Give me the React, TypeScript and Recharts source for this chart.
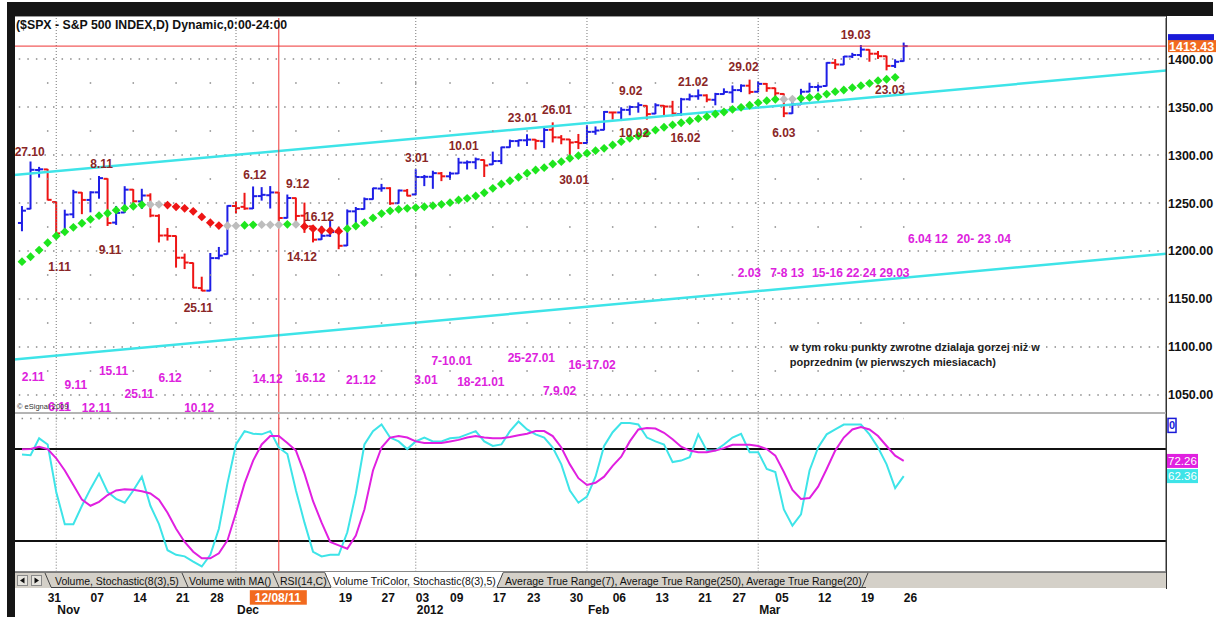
import React from "react";
import { ComposedChart, XAxis, YAxis, Bar, Line, Scatter, ReferenceLine } from "recharts";

const FONT = '"Liberation Sans", Arial, Helvetica, sans-serif';

// daily bars, 26 Oct 2011 .. 26 Mar 2012 (index = trading day)
const opens = [
  1229.2, 1244.0, 1284.4, 1285.0, 1251.0, 1219.6, 1238.2, 1260.8, 1253.2, 1261.1,
  1275.2, 1229.6, 1240.1, 1263.9, 1251.7, 1257.8, 1236.6, 1216.2, 1215.6, 1193.0,
  1187.5, 1161.4, 1158.7, 1192.6, 1196.7, 1246.9, 1246.0, 1244.3, 1257.2, 1258.1,
  1260.9, 1234.5, 1255.1, 1236.8, 1225.7, 1212.1, 1216.1, 1219.7, 1205.7, 1241.3,
  1243.7, 1254.0, 1265.0, 1265.4, 1249.8, 1262.8, 1258.9, 1277.0, 1277.3, 1280.9,
  1277.8, 1280.8, 1292.0, 1292.5, 1294.8, 1290.2, 1293.7, 1308.1, 1314.5, 1315.3,
  1316.0, 1314.4, 1326.3, 1318.3, 1316.2, 1313.5, 1312.5, 1324.2, 1326.2, 1344.3,
  1344.3, 1347.0, 1350.0, 1351.2, 1343.1, 1351.3, 1350.5, 1342.6, 1358.1, 1361.2,
  1362.1, 1357.5, 1363.5, 1365.2, 1367.6, 1372.2, 1365.9, 1374.1, 1369.6, 1363.6,
  1343.4, 1352.7, 1366.0, 1370.8, 1371.9, 1396.0, 1394.2, 1402.6, 1404.2, 1409.6,
  1405.5, 1402.9, 1392.8, 1397.8,
];
const highs = [
  1246.3, 1292.7, 1287.1, 1285.0, 1251.0, 1242.5, 1263.2, 1260.8, 1261.7, 1277.6,
  1275.2, 1246.4, 1267.0, 1263.9, 1264.3, 1259.6, 1237.7, 1223.5, 1215.6, 1196.8,
  1187.5, 1172.7, 1197.4, 1203.7, 1247.1, 1251.1, 1260.1, 1266.7, 1266.0, 1267.1,
  1260.9, 1258.3, 1255.1, 1249.9, 1225.7, 1225.6, 1231.0, 1224.6, 1242.8, 1245.3,
  1255.2, 1265.4, 1269.4, 1265.9, 1263.5, 1264.1, 1284.6, 1278.7, 1283.1, 1281.8,
  1282.0, 1296.5, 1293.8, 1296.8, 1294.8, 1303.0, 1308.1, 1315.5, 1315.4, 1321.1,
  1316.0, 1328.3, 1333.5, 1320.2, 1316.2, 1321.4, 1330.5, 1329.2, 1345.3, 1344.4,
  1349.2, 1351.0, 1354.3, 1351.2, 1353.4, 1351.3, 1355.9, 1359.0, 1363.4, 1367.8,
  1362.7, 1364.2, 1368.9, 1371.9, 1373.1, 1378.0, 1376.2, 1374.5, 1369.6, 1363.6,
  1354.9, 1368.4, 1374.8, 1373.0, 1396.1, 1399.4, 1402.6, 1405.9, 1414.0, 1409.6,
  1407.8, 1402.9, 1399.2, 1416.6,
];
const lows = [
  1221.1, 1244.0, 1277.0, 1253.2, 1215.4, 1219.6, 1234.8, 1238.9, 1240.8, 1255.0,
  1226.6, 1227.7, 1240.1, 1246.7, 1244.3, 1235.7, 1209.4, 1211.4, 1183.2, 1181.7,
  1161.8, 1158.7, 1158.7, 1191.8, 1196.7, 1239.7, 1243.4, 1244.3, 1253.0, 1244.8,
  1231.5, 1234.4, 1227.3, 1219.4, 1209.5, 1212.1, 1215.2, 1202.4, 1205.7, 1229.5,
  1243.7, 1254.0, 1262.3, 1248.6, 1249.8, 1257.5, 1258.9, 1268.1, 1265.3, 1273.3,
  1274.6, 1280.8, 1285.4, 1285.8, 1277.6, 1290.2, 1291.0, 1308.1, 1309.2, 1309.9,
  1306.1, 1307.7, 1313.6, 1311.7, 1300.5, 1306.7, 1312.5, 1321.6, 1326.2, 1337.5,
  1335.9, 1341.9, 1344.6, 1337.4, 1343.1, 1340.8, 1340.8, 1341.2, 1357.2, 1358.1,
  1355.5, 1352.3, 1363.5, 1354.9, 1366.0, 1363.8, 1365.9, 1366.4, 1359.1, 1340.0,
  1343.4, 1352.7, 1366.0, 1366.7, 1371.9, 1390.0, 1394.2, 1401.5, 1402.4, 1397.7,
  1400.6, 1388.7, 1391.2, 1397.8,
];
const closes = [
  1242.0, 1284.6, 1285.1, 1253.3, 1218.3, 1237.9, 1261.2, 1253.2, 1261.1, 1275.9,
  1229.1, 1239.7, 1263.9, 1251.8, 1257.8, 1236.9, 1216.1, 1215.7, 1193.0, 1188.0,
  1161.8, 1158.7, 1192.6, 1195.2, 1247.0, 1244.6, 1244.3, 1257.1, 1258.5, 1261.0,
  1234.4, 1255.2, 1236.5, 1225.7, 1211.8, 1215.8, 1219.7, 1205.4, 1241.3, 1243.7,
  1254.0, 1265.3, 1265.4, 1249.6, 1263.0, 1257.6, 1277.1, 1277.3, 1281.1, 1277.8,
  1280.7, 1292.1, 1292.5, 1295.5, 1289.1, 1293.7, 1308.0, 1314.5, 1315.4, 1316.0,
  1314.7, 1326.1, 1318.4, 1316.3, 1313.0, 1312.4, 1324.1, 1325.5, 1344.9, 1344.3,
  1347.1, 1350.0, 1352.0, 1342.6, 1351.8, 1350.5, 1343.2, 1358.0, 1361.2, 1362.2,
  1357.7, 1363.5, 1365.7, 1367.6, 1372.2, 1365.7, 1374.1, 1369.6, 1364.3, 1343.4,
  1352.6, 1365.9, 1370.9, 1371.1, 1396.0, 1394.3, 1402.6, 1404.2, 1409.8, 1405.5,
  1402.9, 1392.8, 1397.1, 1413.4,
];
// moving average (diamonds)
const maValues = [
  1188.9, 1194.0, 1201.0, 1208.6, 1215.6, 1220.0, 1224.7, 1228.9, 1233.0, 1236.8,
  1239.3, 1242.5, 1244.5, 1246.6, 1248.2, 1248.4, 1248.5, 1247.8, 1246.0, 1244.5,
  1241.3, 1235.5, 1229.5, 1226.5, 1226.3, 1226.2, 1226.8, 1227.3, 1227.4, 1227.3,
  1227.3, 1227.8, 1227.7, 1225.5, 1223.3, 1221.9, 1221.2, 1220.6, 1223.3, 1226.0,
  1229.5, 1234.5, 1239.0, 1241.8, 1243.4, 1244.5, 1245.2, 1246.1, 1247.2, 1248.6,
  1250.3, 1253.1, 1254.9, 1257.3, 1260.7, 1265.3, 1269.8, 1273.2, 1276.8, 1281.0,
  1284.4, 1286.8, 1290.6, 1293.0, 1296.6, 1299.3, 1301.8, 1304.5, 1307.0, 1310.4,
  1313.9, 1317.4, 1319.8, 1322.6, 1326.0, 1328.9, 1331.3, 1333.6, 1335.7, 1337.8,
  1339.9, 1342.7, 1344.8, 1347.6, 1349.7, 1351.8, 1354.5, 1356.6, 1358.0, 1358.2,
  1358.3, 1359.0, 1360.0, 1360.7, 1363.5, 1366.0, 1367.7, 1370.1, 1372.2, 1374.7,
  1377.4, 1378.9, 1380.9, null,
];
// stochastic %K (cyan) and %D (magenta)
const stochK = [
  76.4, 76.0, 87.0, 83.0, 52.0, 31.0, 31.0, 43.0, 54.0, 64.0,
  52.0, 47.5, 45.0, 53.0, 62.0, 43.0, 31.0, 14.0, 11.0, 10.0,
  6.6, 3.4, 11.0, 28.0, 57.6, 83.0, 91.7, 90.0, 89.6, 91.7,
  81.0, 76.8, 53.0, 32.0, 13.0, 10.0, 11.0, 11.0, 25.7, 51.0,
  83.0, 91.7, 96.0, 87.5, 85.0, 80.0, 85.0, 87.5, 85.0, 85.0,
  87.0, 87.5, 89.6, 91.7, 85.0, 82.0, 83.0, 91.7, 98.0, 92.8,
  89.6, 87.5, 81.0, 70.0, 53.0, 45.0, 49.0, 62.0, 82.0, 91.0,
  97.0, 97.0, 96.0, 87.5, 85.0, 83.0, 71.5, 72.5, 74.7, 89.6,
  79.0, 79.0, 83.0, 87.5, 90.0, 78.0, 78.0, 67.0, 65.0, 40.6,
  30.0, 37.4, 66.0, 81.0, 89.6, 92.8, 96.0, 96.0, 96.0, 89.6,
  81.0, 70.0, 54.5, 62.36,
];
const stochD = [
  79.8, 80.0, 81.5, 80.0, 74.0, 66.0, 56.5, 47.0, 43.0, 45.6,
  50.0, 53.0, 53.7, 53.5, 52.5, 51.0, 47.0, 38.5, 28.0, 19.4,
  13.0, 8.7, 8.7, 12.0, 20.4, 38.5, 57.6, 72.5, 83.0, 88.5,
  88.5, 84.0, 79.0, 64.0, 46.0, 32.0, 19.4, 17.2, 15.0, 23.6,
  40.6, 66.0, 81.0, 87.5, 88.5, 87.5, 85.0, 84.0, 84.0, 84.0,
  85.0, 86.0, 87.5, 88.5, 87.5, 87.0, 87.0, 87.9, 89.0, 90.0,
  91.7, 91.7, 88.5, 81.0, 70.0, 61.0, 56.6, 58.0, 62.0, 69.0,
  75.0, 85.0, 92.8, 93.8, 93.4, 90.6, 86.4, 81.5, 79.0, 78.0,
  78.0, 79.0, 80.6, 82.8, 82.8, 82.8, 82.0, 80.0, 75.7, 65.0,
  53.4, 47.4, 48.0, 55.5, 67.0, 79.0, 87.5, 92.8, 94.3, 92.8,
  88.5, 82.0, 75.7, 72.26,
];

const priceTicks = [1050, 1100, 1150, 1200, 1250, 1300, 1350, 1400];
const midLevels = [1075, 1125, 1175, 1225, 1275, 1325, 1375];
const lastPrice = 1413.43;

// first trading day of each week; the two December labels under the cursor box stay blank
const weekStarts = [3, 8, 13, 18, 22, 27, 32, 37, 42, 46, 50, 55, 59, 64, 69, 74, 79, 83, 88, 93, 98, 103];
const weekLabels = ["31", "07", "14", "21", "28", "", "", "19", "27", "03", "09", "17", "23", "30", "06", "13", "21", "27", "05", "12", "19", "26"];
const monthStarts = [4, 25, 46, 66, 86];
const monthLabels = ["Nov", "Dec", "2012", "Feb", "Mar"];
const cursorIndex = 30;
const cursorLabel = "12/08/11";

// trend channel, two anchor points each (bar index, price)
const upperTrend = [{ x: -2, y: 1278.2 }, { x: 136, y: 1390.0 }];
const lowerTrend = [{ x: -2, y: 1086.2 }, { x: 136, y: 1199.1 }];

// turning-point notes
const redNoteText = ["27.10", "8.11", "6.12", "9.12", "16.12", "1.11", "9.11", "25.11", "14.12", "3.01", "10.01", "23.01", "26.01", "30.01", "9.02", "10.02", "21.02", "16.02", "29.02", "6.03", "19.03", "23.03"];
const redNoteAt = [0.9, 9.3, 27.2, 32.2, 34.7, 4.4, 10.3, 20.6, 32.7, 46.1, 51.6, 58.5, 62.5, 64.5, 71.1, 71.5, 78.4, 77.5, 84.3, 89.0, 97.4, 101.4];
const redNoteLevel = [1303, 1290.6, 1280, 1269.8, 1235.7, 1183.7, 1201, 1141.3, 1194, 1297.6, 1309.7, 1339.3, 1347.6, 1274.7, 1367, 1323.3, 1376.4, 1318.4, 1392, 1323.3, 1425, 1368.4];

const pinkNoteText = ["2.11", "9.11", "15.11", "25.11", "12.11", "6.11", "6.12", "10.12", "14.12", "16.12", "21.12", "3.01", "7-10.01", "18-21.01", "25-27.01", "16-17.02", "7.9.02"];
const pinkNoteAt = [1.3, 6.3, 10.7, 13.7, 8.7, 4.4, 17.3, 20.7, 28.7, 33.7, 39.6, 47.2, 50.2, 53.6, 59.5, 66.6, 62.8];
const pinkNoteLevel = [1069, 1060.4, 1075.3, 1051, 1036.5, 1037.9, 1068.4, 1036.5, 1067.4, 1068.4, 1066.4, 1065.6, 1085.7, 1063.9, 1088.9, 1081.3, 1054.5];

const pinkRowText = ["2.03", "7-8 13", "15-16 22 24 29.03", "6.04 12", "20- 23 .04"];
const pinkRowAt = [83.6, 87.4, 92.3, 103.5, 109.2];
const pinkRowLevel = [1177.4, 1177.4, 1177.4, 1213.2, 1213.2];

const commentText = ["w tym roku punkty zwrotne dzialaja gorzej niż w", "poprzednim (w pierwszych miesiacach)"];
const commentAt = [89.7, 89.7];
const commentLevel = [1100.3, 1084.7];

const X_DOMAIN: [number, number] = [-0.935, 133.64];

const BLUE = "#1e1ee6";
const RED = "#ee1515";
const GREEN = "#1ee61e";
const GRAY = "#bdbdbd";
const CYAN = "#3ee4e8";
const MAGENTA = "#e020e0";
const NOTE_RED = "#8a2626";
const NOTE_PINK = "#dd22dd";

const bars = opens.map((o, i) => ({
  i,
  o,
  h: highs[i],
  l: lows[i],
  c: closes[i],
  up: i === 0 || closes[i] >= closes[i - 1],
  ma: maValues[i],
  k: stochK[i],
  d: stochD[i],
}));

const maPoints = bars
  .filter((b) => b.ma != null)
  .map((b) => {
    const prev = b.i > 0 ? maValues[b.i - 1] : null;
    const diff = prev == null ? 1 : (b.ma as number) - prev;
    return { i: b.i, ma: b.ma, col: diff > 0.3 ? GREEN : diff < -0.3 ? RED : GRAY };
  });

const gridDots = weekStarts.flatMap((i) => midLevels.map((p) => ({ i, p })));
const toNotes = (t: string[], a: number[], l: number[]) => t.map((text, n) => ({ i: a[n], p: l[n], text }));
const redNotes = toNotes(redNoteText, redNoteAt, redNoteLevel);
const pinkNotes = toNotes(pinkNoteText, pinkNoteAt, pinkNoteLevel);
const pinkRow = toNotes(pinkRowText, pinkRowAt, pinkRowLevel);
const comments = toNotes(commentText, commentAt, commentLevel);

const OhlcShape = (props: any) => {
  const { x, y, width, height, payload } = props;
  if (x == null || y == null) return null;
  const top = Math.min(y, y + height);
  const h = Math.abs(height);
  const cx = x + width / 2;
  const span = payload.h - payload.l || 1;
  const yo = top + ((payload.h - payload.o) / span) * h;
  const yc = top + ((payload.h - payload.c) / span) * h;
  const col = payload.up ? BLUE : RED;
  return (
    <g stroke={col} strokeWidth={2}>
      <line x1={cx} x2={cx} y1={top - 0.5} y2={top + h + 0.5} />
      <line x1={cx - 4} x2={cx} y1={yo} y2={yo} />
      <line x1={cx} x2={cx + 4} y1={yc} y2={yc} />
    </g>
  );
};

const Diamond = (props: any) => {
  const { cx, cy, payload } = props;
  if (cx == null || cy == null) return null;
  const s = 4.4;
  return <polygon points={`${cx},${cy - s} ${cx + s},${cy} ${cx},${cy + s} ${cx - s},${cy}`} fill={payload.col} />;
};

const GridDot = (props: any) => {
  const { cx, cy } = props;
  return <rect x={cx - 0.75} y={cy - 0.75} width={1.5} height={1.5} fill="#8a8a8a" />;
};

const noteShape = (color: string, anchor: "middle" | "start", size: number) => (props: any) => (
  <text
    x={props.cx}
    y={props.cy}
    dy="0.36em"
    textAnchor={anchor}
    fill={color}
    fontFamily={FONT}
    fontSize={size}
    fontWeight="bold"
    style={{ whiteSpace: "pre" }}
  >
    {props.payload.text}
  </text>
);

const PriceTick = (props: any) => {
  const { x, y, payload } = props;
  return (
    <text x={x} y={y} dy={4.5} textAnchor="start" fontFamily={FONT} fontSize={12.5} fontWeight="bold" fill="#111">
      {Number(payload.value).toFixed(2)}
    </text>
  );
};

const LastPriceTag = (props: any) => {
  const vb = props.viewBox;
  if (!vb) return null;
  const x = vb.x + vb.width + 2;
  const y = vb.y;
  return (
    <g>
      <rect x={x} y={y - 12} width={46} height={7} fill="#1a1ad8" />
      <rect x={x} y={y - 6} width={50} height={12} fill="#f26a1f" />
      <text x={x + 1} y={y + 4.5} fontFamily={FONT} fontSize={12.5} fontWeight="bold" fill="#fff">
        {lastPrice.toFixed(2)}
      </text>
    </g>
  );
};

const ValueTag = (props: any) => {
  const { viewBox, text, bg, fg, outline } = props;
  if (!viewBox) return null;
  const x = viewBox.x + viewBox.width + 1;
  const y = viewBox.y;
  if (outline) {
    return (
      <g>
        <rect x={x + 1} y={y} width={8} height={14} fill="#fff" stroke={outline} strokeWidth={1.5} />
        <text x={x + 5} y={y + 11} textAnchor="middle" fontFamily={FONT} fontSize={11} fontWeight="bold" fill={outline}>
          {text}
        </text>
      </g>
    );
  }
  return (
    <g>
      <rect x={x} y={y - 7} width={31} height={14} fill={bg} />
      <text x={x + 1} y={y + 4} fontFamily={FONT} fontSize={11.5} fill={fg}>
        {text}
      </text>
    </g>
  );
};

const axisTicks = [...weekStarts, ...monthStarts.filter((m) => !weekStarts.includes(m)), cursorIndex];

const DateTick = (props: any) => {
  const { x, y, payload } = props;
  const v = payload.value;
  const wi = weekStarts.indexOf(v);
  const mi = monthStarts.indexOf(v);
  const base = { fontFamily: FONT, fontSize: 12, fontWeight: "bold" as const, fill: "#111" };
  return (
    <g>
      {wi >= 0 && weekLabels[wi] !== "" && (
        <text x={x} y={y + 30} {...base}>
          {weekLabels[wi]}
        </text>
      )}
      {mi >= 0 && (
        <text x={x + 1} y={y + 42.5} {...base}>
          {monthLabels[mi]}
        </text>
      )}
      {v === cursorIndex && (
        <g>
          <rect x={x - 29} y={y + 18.5} width={57} height={14.5} fill="#f26a1f" />
          <text x={x - 1} y={y + 30} textAnchor="middle" {...base} fill="#fff">
            {cursorLabel}
          </text>
        </g>
      )}
    </g>
  );
};

const tabs = [
  { text: "Volume, Stochastic(8(3),5)", x: 55 },
  { text: "Volume with MA()", x: 189 },
  { text: "RSI(14,C)", x: 280 },
  { text: "Volume TriColor, Stochastic(8(3),5)", x: 333 },
  { text: "Average True Range(7), Average True Range(250), Average True Range(20)", x: 505 },
];

function TabBar() {
  return (
    <svg width={1216} height={16} style={{ position: "absolute", left: 0, top: 572 }}>
      <rect x={15} y={0} width={1151} height={16} fill="#d4d0c8" />
      <line x1={15} x2={1166} y1={0.5} y2={0.5} stroke="#7a7a7a" />
      <polygon points="325,0 331,15 497,15 503,0" fill="#fff" />
      <rect x={17.5} y={3.5} width={10} height={10} fill="#e6e4de" stroke="#8a8a8a" />
      <path d="M24.5 5.5 L20 8.5 L24.5 11.5 Z" fill="#111" />
      <rect x={31.5} y={3.5} width={10} height={10} fill="#e6e4de" stroke="#8a8a8a" />
      <path d="M34.5 5.5 L39 8.5 L34.5 11.5 Z" fill="#111" />
      <g stroke="#444" strokeWidth={1}>
        <line x1={45} y1={1} x2={51} y2={15} />
        <line x1={182} y1={1} x2={188} y2={15} />
        <line x1={273} y1={1} x2={279} y2={15} />
        <line x1={325} y1={1} x2={331} y2={15} />
        <line x1={497} y1={15} x2={503} y2={1} />
        <line x1={862} y1={15} x2={868} y2={1} />
        <line x1={51} y1={15.5} x2={331} y2={15.5} />
        <line x1={497} y1={15.5} x2={866} y2={15.5} />
      </g>
      {tabs.map((t) => (
        <text key={t.text} x={t.x} y={12.5} fontFamily={FONT} fontSize={10.5} fill="#111">
          {t.text}
        </text>
      ))}
    </svg>
  );
}

export default function App() {
  return (
    <div
      style={{
        position: "absolute",
        left: 0,
        top: 0,
        width: 1216,
        height: 617,
        background: "#fff",
        overflow: "hidden",
        fontFamily: FONT,
      }}
    >
      {/* price panel */}
      <div style={{ position: "absolute", left: 0, top: 0 }}>
        <ComposedChart width={1216} height={420} data={bars} margin={{ top: 18, right: 0, bottom: 8, left: 14 }}>
          <XAxis dataKey="i" type="number" domain={X_DOMAIN} hide allowDataOverflow />
          <YAxis
            orientation="right"
            type="number"
            domain={[1032.29, 1442.71]}
            ticks={priceTicks}
            width={50}
            tickSize={0}
            tickMargin={2}
            tick={<PriceTick />}
            axisLine={{ stroke: "#333" }}
            tickLine={false}
            allowDataOverflow
          />
          {priceTicks.map((p) => (
            <ReferenceLine key={p} y={p} stroke="#8a8a8a" strokeWidth={1.5} strokeDasharray="1.5 7.06" strokeDashoffset={1.3} />
          ))}
          {monthStarts.map((m) => (
            <ReferenceLine key={m} x={m} stroke="#777" strokeDasharray="1 2" />
          ))}
          <Scatter data={gridDots} dataKey="p" shape={GridDot} isAnimationActive={false} />
          <ReferenceLine segment={upperTrend} stroke={CYAN} strokeWidth={2.5} ifOverflow="hidden" />
          <ReferenceLine segment={lowerTrend} stroke={CYAN} strokeWidth={2.5} ifOverflow="hidden" />
          <ReferenceLine y={lastPrice} stroke="#e33" label={<LastPriceTag />} />
          <ReferenceLine x={cursorIndex} stroke="#e33" />
          <Bar dataKey={(d: any) => [d.l, d.h]} barSize={8} shape={<OhlcShape />} isAnimationActive={false} />
          <Scatter data={maPoints} dataKey="ma" shape={Diamond} isAnimationActive={false} />
          <Scatter data={redNotes} dataKey="p" shape={noteShape(NOTE_RED, "middle", 12)} isAnimationActive={false} />
          <Scatter data={pinkNotes} dataKey="p" shape={noteShape(NOTE_PINK, "middle", 12)} isAnimationActive={false} />
          <Scatter data={pinkRow} dataKey="p" shape={noteShape(NOTE_PINK, "start", 12)} isAnimationActive={false} />
          <Scatter data={comments} dataKey="p" shape={noteShape("#222", "start", 11)} isAnimationActive={false} />
        </ComposedChart>
      </div>

      {/* stochastic panel + date axis */}
      <div style={{ position: "absolute", left: 0, top: 413 }}>
        <ComposedChart width={1216} height={204} data={bars} margin={{ top: 0.8, right: 0, bottom: 0, left: 14 }}>
          <XAxis
            dataKey="i"
            type="number"
            domain={X_DOMAIN}
            allowDataOverflow
            ticks={axisTicks}
            interval={0}
            tick={<DateTick />}
            axisLine={false}
            tickLine={false}
            tickSize={0}
            tickMargin={0}
            height={45.3}
          />
          <YAxis orientation="right" type="number" domain={[0, 103]} width={50} tick={false} tickLine={false} axisLine={{ stroke: "#333" }} allowDataOverflow />
          <ReferenceLine segment={[{ x: -0.9, y: 100 }, { x: 103, y: 100 }]} stroke="#8a8a8a" strokeWidth={1.5} strokeDasharray="1.5 7.06" strokeDashoffset={1.3} />
          {monthStarts.map((m) => (
            <ReferenceLine key={m} x={m} stroke="#777" strokeDasharray="1 2" />
          ))}
          <ReferenceLine y={80} stroke="#111" strokeWidth={2} />
          <ReferenceLine y={20} stroke="#111" strokeWidth={2} />
          <ReferenceLine x={cursorIndex} stroke="#e33" />
          <ReferenceLine y={100} stroke="none" label={<ValueTag text="0" outline="#1a1ad8" />} />
          <ReferenceLine y={stochD[stochD.length - 1]} stroke="none" label={<ValueTag text={stochD[stochD.length - 1].toFixed(2)} bg={MAGENTA} fg="#fff" />} />
          <ReferenceLine y={stochK[stochK.length - 1]} stroke="none" label={<ValueTag text={stochK[stochK.length - 1].toFixed(2)} bg={CYAN} fg="#fff" />} />
          <Line type="linear" dataKey="k" stroke={CYAN} strokeWidth={2} dot={false} isAnimationActive={false} />
          <Line type="linear" dataKey="d" stroke={MAGENTA} strokeWidth={2} dot={false} isAnimationActive={false} />
        </ComposedChart>
      </div>

      {/* window frame */}
      <div style={{ position: "absolute", left: 7, top: 2, width: 1206, height: 14, background: "#151515" }} />
      <div style={{ position: "absolute", left: 7, top: 2, width: 8, height: 615, background: "#151515" }} />
      <div style={{ position: "absolute", left: 15, top: 16, width: 1151, height: 1, background: "#999" }} />
      <div style={{ position: "absolute", left: 15, top: 412, width: 1151, height: 2, background: "#b4b4b4" }} />
      <div style={{ position: "absolute", left: 15, top: 571, width: 1151, height: 1, background: "#888" }} />
      <div style={{ position: "absolute", left: 1166, top: 16, width: 1, height: 573, background: "#333" }} />
      <TabBar />
      <div
        style={{
          position: "absolute",
          left: 16,
          top: 18,
          fontSize: 12.3,
          fontWeight: "bold",
          color: "#111",
          whiteSpace: "pre",
        }}
      >
        ($SPX - S&amp;P 500 INDEX,D) Dynamic,0:00-24:00
      </div>
      <div style={{ position: "absolute", left: 17, top: 402, fontSize: 7.5, color: "#333" }}>© eSignal 2009</div>
    </div>
  );
}
